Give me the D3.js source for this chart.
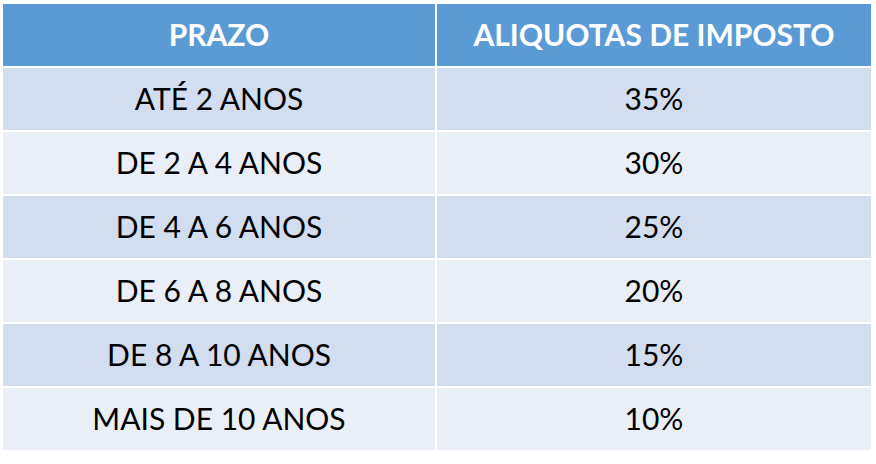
<!DOCTYPE html><html><head><meta charset="utf-8"><script src="https://cdn.jsdelivr.net/npm/d3@7"></script>
<style>body{margin:0;background:#fff}</style></head><body><script>
const headers=["PRAZO","ALIQUOTAS DE IMPOSTO"];
const prazos=["ATÉ 2 ANOS","DE 2 A 4 ANOS","DE 4 A 6 ANOS","DE 6 A 8 ANOS","DE 8 A 10 ANOS","MAIS DE 10 ANOS"];
const aliquotas=["35%","30%","25%","20%","15%","10%"];
const W=876,H=464;
const svg=d3.select("body").append("svg").attr("width",W).attr("height",H);
const x=d3.scaleBand().domain([0,1]).range([2,872]);
x.range([2,872]);
const colX=[2,436,872];
const y=d3.scaleBand().domain(d3.range(7)).range([3,451]);
const rows=[headers].concat(prazos.map((p,i)=>[p,aliquotas[i]]));
const g=svg.selectAll("g.r").data(rows).join("g");
g.each(function(r,i){
  const s=d3.select(this);
  [0,1].forEach(c=>{
    s.append("rect").attr("x",colX[c]).attr("y",y(i)).attr("width",colX[c+1]-colX[c]).attr("height",y.bandwidth())
     .attr("fill",i===0?"#5B9BD5":(i%2?"#D2DEEF":"#EAEFF7")).attr("stroke","#fff").attr("stroke-width",2);
    s.append("text").attr("x",(colX[c]+colX[c+1])/2).attr("y",y(i)+y.bandwidth()/2).attr("dy","0.36em")
     .attr("text-anchor","middle").attr("font-family","Lato, 'Open Sans', sans-serif").attr("font-size",30)
     .attr("font-weight",i===0?"bold":"normal").attr("fill",i===0?"#fff":"#000").text(r[c]);
  });
});
</script></body></html>
